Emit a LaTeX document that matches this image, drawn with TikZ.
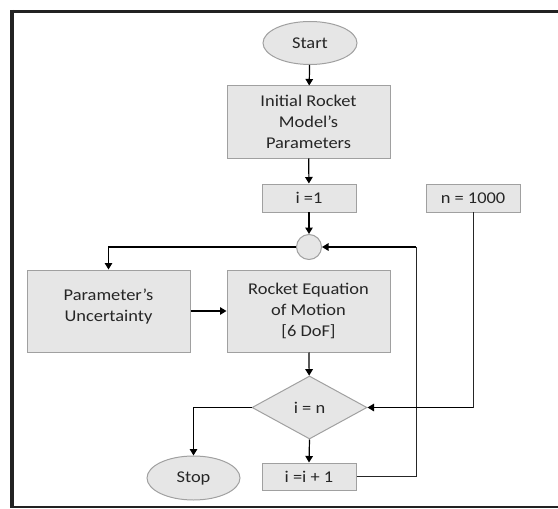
\documentclass[tikz,border=0pt]{standalone}
\usepackage{fontspec}
\setmainfont{Carlito}[FakeStretch=1.12]
\usetikzlibrary{shapes.geometric,arrows.meta}
\definecolor{boxfill}{HTML}{E6E6E6}
\definecolor{boxline}{HTML}{A0A0A0}
\definecolor{frame}{HTML}{222222}
\definecolor{txt}{HTML}{262626}
\begin{document}
\begin{tikzpicture}[x=1bp,y=-1bp,
  font=\fontsize{16.5}{21}\selectfont,
  blk/.style={draw=boxline,fill=boxfill,line width=1pt,rectangle,inner sep=0pt,align=center,text=txt},
  term/.style={draw=boxline,fill=boxfill,line width=1pt,ellipse,inner sep=0pt,text=txt},
  dec/.style={draw=boxline,fill=boxfill,line width=1pt,diamond,inner sep=0pt,text=txt},
  arr/.style={draw=black,line width=1.2pt,-{Triangle[length=6.5bp,width=7.5bp]}},
  lin/.style={draw=black!85,line width=1pt}]
\useasboundingbox (0,0) rectangle (558,509);
% frame
\draw[frame,line width=3bp] (10,11.5) -- (558,11.5);
\draw[frame,line width=2bp] (10,507) -- (558,507);
\draw[frame,line width=4bp] (12,10) -- (12,508);
% nodes
\node[term,minimum width=94bp,minimum height=43bp] (start) at (310,43) {Start};
\node[blk,minimum width=163bp,minimum height=72bp] (init) at (308.5,122) {Initial Rocket\\Model’s\\Parameters};
\node[blk,minimum width=94bp,minimum height=28bp] (i1) at (309,198) {i =1};
\node[blk,minimum width=94bp,minimum height=28bp] (n) at (473,198) {n = 1000};
\node[draw=boxline,fill=boxfill,line width=1pt,circle,inner sep=0pt,minimum size=25bp] (circ) at (309,247) {};
\node[blk,minimum width=163bp,minimum height=82bp] (param) at (108.5,311) {Parameter’s\\Uncertainty\\[-9bp]\mbox{}};
\node[blk,minimum width=163bp,minimum height=82bp] (rocket) at (308.5,311) {Rocket Equation\\of Motion\\{}[6 DoF]};
\node[dec,minimum width=115bp,minimum height=63bp] (dia) at (309.5,407.5) {i = n};
\node[term,minimum width=93bp,minimum height=44bp] (stop) at (193.5,478) {Stop};
\node[blk,minimum width=94bp,minimum height=27bp] (inc) at (309,476.5) {i =i + 1};
\coordinate (lp) at (416,247);
% connectors
\draw[arr] (start) -- (init);
\draw[arr] (init) -- (i1);
\draw[arr] (i1) -- (circ);
\draw[arr] (circ.west) -| (param.north);
\draw[arr] (param) -- (rocket);
\draw[arr] (rocket) -- (dia);
\draw[arr] (dia.west) -| (stop.north);
\draw[arr] (dia.south) -- (inc.north);
\draw[lin] (inc.east) -| (lp);
\draw[arr] (lp) -- (circ.east);
\draw[lin] (n.south) -- (n.south |- dia.east);
\draw[arr] (n.south |- dia.east) -- (dia.east);
\end{tikzpicture}
\end{document}
